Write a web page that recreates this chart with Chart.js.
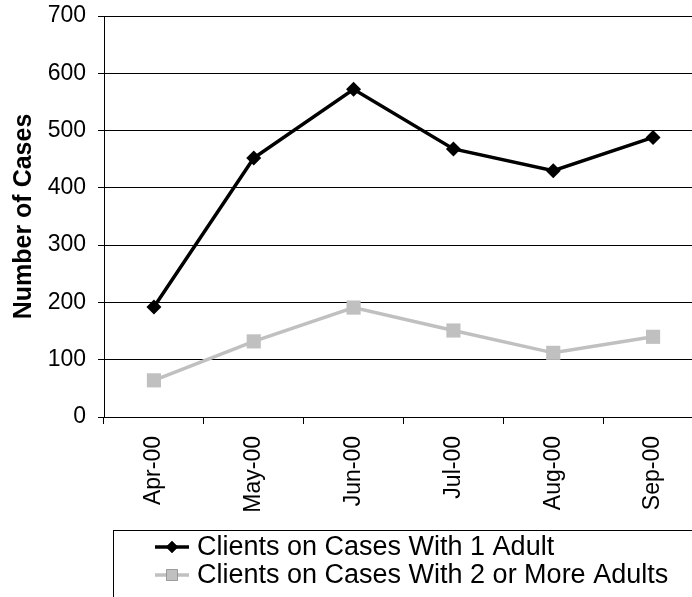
<!DOCTYPE html>
<html lang="en">
<head>
    <meta charset="UTF-8">
    <title>Number of Cases</title>
    <style>
        html, body {
            margin: 0;
            padding: 0;
            overflow: hidden;
            background: #fff;
        }
        #wrap {
            width: 720px;
            height: 597px;
        }
    </style>
    <script src="https://cdn.jsdelivr.net/npm/chart.js"></script>
</head>
<body>
    <div id="wrap"><canvas id="casesChart" width="720" height="597"></canvas></div>
    <script>
        // Data
        const months = ['Apr-00', 'May-00', 'Jun-00', 'Jul-00', 'Aug-00', 'Sep-00'];
        const oneAdult = [192, 452, 572, 468, 430, 488];
        const twoOrMore = [64, 132, 191, 151, 112, 140];
        const seriesNames = ['Clients on Cases With 1 Adult', 'Clients on Cases With 2 or More Adults'];
        const yTicks = [0, 100, 200, 300, 400, 500, 600, 700];

        const FONT = '"Liberation Sans", Arial, sans-serif';

        // Legend drawn as a boxed list under the chart, like the original
        const boxLegend = {
            id: 'boxLegend',
            afterDraw(chart) {
                const ctx = chart.ctx;
                ctx.save();
                ctx.strokeStyle = '#000';
                ctx.lineWidth = 1;
                ctx.strokeRect(113.5, 530.5, 700, 200);
                chart.data.datasets.forEach((ds, i) => {
                    const y = 547 + i * 28;
                    ctx.strokeStyle = ds.borderColor;
                    ctx.lineWidth = ds.borderWidth;
                    ctx.beginPath();
                    ctx.moveTo(155, y);
                    ctx.lineTo(189, y);
                    ctx.stroke();
                    Chart.helpers.drawPoint(ctx, {
                        pointStyle: ds.pointStyle,
                        radius: ds.pointRadius * 0.8,
                        borderWidth: 0
                    }, 172, y);
                    ctx.fillStyle = ds.pointBackgroundColor;
                    ctx.fill();
                    ctx.fillStyle = '#000';
                    ctx.font = '27px ' + FONT;
                    ctx.textBaseline = 'middle';
                    ctx.fillText(ds.label, 197, y + 1);
                });
                ctx.restore();
            }
        };

        new Chart(document.getElementById('casesChart').getContext('2d'), {
            type: 'line',
            data: {
                labels: months,
                datasets: [{
                    label: seriesNames[0],
                    data: oneAdult,
                    borderColor: '#000',
                    backgroundColor: '#000',
                    pointBackgroundColor: '#000',
                    pointBorderColor: '#000',
                    borderWidth: 3.5,
                    pointStyle: 'rectRot',
                    pointRadius: 7.5,
                    pointBorderWidth: 0,
                    tension: 0
                }, {
                    label: seriesNames[1],
                    data: twoOrMore,
                    borderColor: '#c0c0c0',
                    backgroundColor: '#c0c0c0',
                    pointBackgroundColor: '#c0c0c0',
                    pointBorderColor: '#c0c0c0',
                    borderWidth: 3.5,
                    pointStyle: 'rect',
                    pointRadius: 10,
                    pointBorderWidth: 0,
                    tension: 0
                }]
            },
            options: {
                responsive: false,
                animation: false,
                layout: { padding: { left: 0, top: 16, right: 17, bottom: 0 } },
                plugins: {
                    legend: { display: false },
                    tooltip: { enabled: false }
                },
                scales: {
                    x: {
                        offset: true,
                        grid: {
                            offset: true,
                            drawOnChartArea: false,
                            drawTicks: true,
                            tickLength: 7,
                            color: '#000'
                        },
                        border: { color: '#000', width: 1 },
                        ticks: {
                            color: '#000',
                            font: { family: FONT, size: 23 },
                            minRotation: 90,
                            maxRotation: 90,
                            padding: 12
                        },
                        afterFit(scale) {
                            scale.height = 180;
                            scale.paddingLeft = 0;
                            scale.paddingRight = 0;
                        }
                    },
                    y: {
                        min: 0,
                        max: 700,
                        afterBuildTicks(scale) { scale.ticks = yTicks.map(v => ({ value: v })); },
                        grid: {
                            color: '#000',
                            lineWidth: 1,
                            tickLength: 6
                        },
                        border: { color: '#000', width: 1 },
                        ticks: {
                            color: '#000',
                            font: { family: FONT, size: 23 },
                            padding: 12
                        },
                        title: {
                            display: true,
                            text: 'Number of Cases',
                            color: '#000',
                            font: { family: FONT, size: 25, weight: 'bold' },
                            padding: { top: 9, bottom: 0 }
                        },
                        afterFit(scale) {
                            scale.width = 104;
                            scale.paddingTop = 0;
                            scale.paddingBottom = 0;
                        }
                    }
                }
            },
            plugins: [boxLegend]
        });
    </script>
</body>
</html>
